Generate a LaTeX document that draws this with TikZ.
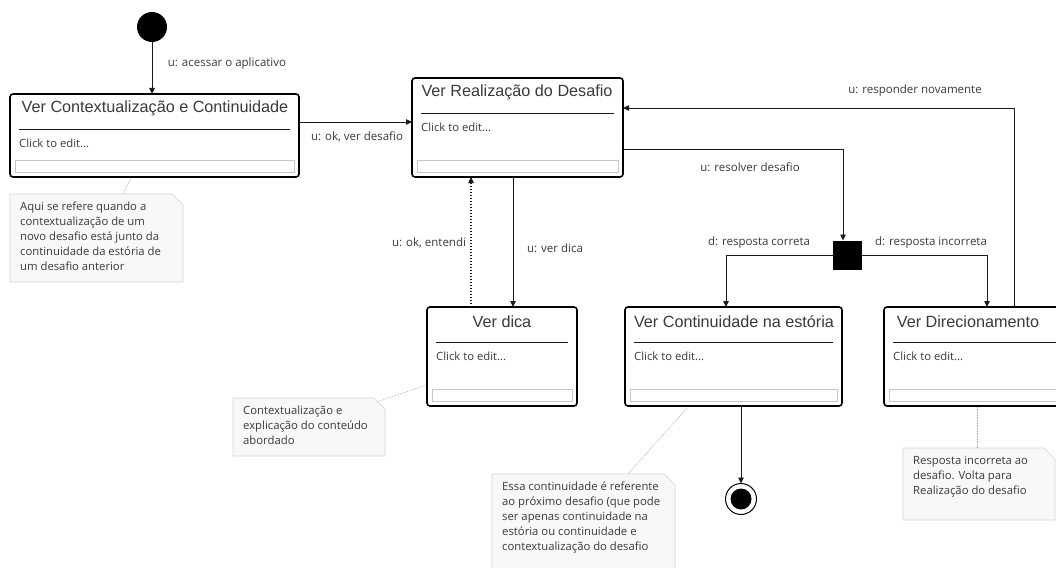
\documentclass[tikz,border=0pt]{standalone}
\usepackage{fontspec}
\setmainfont{Open Sans}
\newfontfamily\titlefont{Liberation Sans}
\usetikzlibrary{arrows.meta,calc}

\definecolor{linec}{HTML}{1A1A1A}
\definecolor{txtc}{HTML}{3A3A3A}
\definecolor{notefill}{HTML}{F8F8F8}
\definecolor{notedraw}{HTML}{D4D4D4}

\tikzset{
  st/.style={draw=black, line width=1.6pt, rounded corners=3pt, fill=white, inner sep=0pt, outer sep=0pt, anchor=north west},
  ttl/.style={font=\titlefont\fontsize{16.2}{19}\selectfont, text=txtc, inner sep=0pt},
  cte/.style={font=\fontsize{11.3}{13}\selectfont, text=txtc, inner sep=0pt, anchor=west},
  lbl/.style={font=\fontsize{11.5}{13}\selectfont, text=txtc, inner sep=0pt},
  arr/.style={draw=linec, line width=0.8pt, -{Triangle[length=6pt,width=5.5pt]}},
  dotarr/.style={draw=linec, line width=1.4pt, dash pattern=on 1.4pt off 1.6pt, -{Triangle[length=6pt,width=5.5pt,line width=0.8pt]}},
  notebg/.style={fill=notefill, draw=notedraw, line width=0.6pt},
  notetxt/.style={font=\fontsize{11.3}{15}\selectfont, text=txtc, inner sep=0pt, align=left, anchor=north west},
  leader/.style={draw=black!35, line width=0.5pt, dash pattern=on 0.8pt off 0.8pt},
  initst/.style={circle, fill=black, minimum size=30pt, inner sep=0pt, outer sep=0pt},
  finst/.style={circle, draw=black, line width=1pt, fill=white, minimum size=31pt, inner sep=0pt, outer sep=0pt},
  decst/.style={rectangle, fill=black, minimum size=29pt, inner sep=0pt, outer sep=0pt},
}

% name, x1, y1, x2, y2, title, title center x
\newcommand\mystate[7]{%
  \node[st, minimum width={(#4-#2)*1pt}, minimum height={(#5-#3)*1pt}] (#1) at (#2,#3) {};
  \node[ttl] (#1-t) at (#7,{#3+14.5}) {#6};
  \draw[draw=linec, line width=0.8pt] ({#2+9},{#3+35}) -- ({#4-9},{#3+35});
  \node[cte] (#1-c) at ({#2+9},{#3+49}) {Click to edit...};
  \draw[draw=black!22, line width=0.8pt] ({#2+5},{#5-16.5}) rectangle ({#4-5},{#5-5});
}

% name, x1, y1, x2, y2, text
\newcommand\mynote[6]{%
  \filldraw[notebg] (#2,#3) -- ({#4-11},#3) -- (#4,{#3+11}) -- (#4,#5) -- (#2,#5) -- cycle;
  \node[notetxt] (#1) at ({#2+10},{#3+8}) {#6};
}

\begin{document}
\begin{tikzpicture}[x=1pt,y=-1pt]
\useasboundingbox (0,0) rectangle (1056,567);
\clip (0,0) rectangle (1056,567);

% states
\mystate{b1}{10}{94}{299}{177}{Ver Contextualização e Continuidade}{155}
\mystate{b2}{412}{78}{623}{177}{Ver Realização do Desafio}{517}
\mystate{dica}{427}{307}{577}{406}{Ver dica}{502}
\mystate{cont}{625}{307}{842}{406}{Ver Continuidade na estória}{734}
\mystate{dir}{884}{307}{1066}{406}{Ver Direcionamento}{968}

\node[initst] (init) at (152,27) {};
\node[finst] (fin) at (741,499) {};
\fill[black] (fin.center) circle (10.5pt);
\node[decst] (dec) at (847,255) {};

% helper coordinates
\coordinate (p1) at (0,122);
\coordinate (xa) at (513,0);
\coordinate (xb) at (471,0);
\coordinate (p3) at (0,149);
\coordinate (xc) at (843,0);
\coordinate (xd) at (726,0);
\coordinate (xe) at (987,0);
\coordinate (xf) at (1014,0);
\coordinate (p4) at (0,108);

% connectors
\draw[arr] (init) -- (init |- b1.north);
\draw[arr] (b1.east |- p1) -- (b2.west |- p1);
\draw[arr] (b2.south -| xa) -- (dica.north -| xa);
\draw[dotarr] (dica.north -| xb) -- (b2.south -| xb);
\draw[arr] (b2.east |- p3) -| (dec.north -| xc);
\draw[arr] (dec.west) -| (cont.north -| xd);
\draw[arr] (dec.east) -| (dir.north -| xe);
\draw[arr] (dir.north -| xf) |- (b2.east |- p4);
\draw[arr] (cont.south -| fin) -- (fin.north);

% labels
\node[lbl] (l1) at (227,64) {u: acessar o aplicativo};
\node[lbl] (l2) at (357,137) {u: ok, ver desafio};
\node[lbl] (l3) at (915,91) {u: responder novamente};
\node[lbl] (l4) at (750,167) {u: resolver desafio};
\node[lbl] (l5) at (759,243) {d: resposta correta};
\node[lbl] (l6) at (931,243) {d: resposta incorreta};
\node[lbl] (l7) at (555,248) {u: ver dica};
\node[lbl] (l8) at (429,243) {u: ok, entendi};

% notes
\mynote{n1}{10}{194}{183}{282}{Aqui se refere quando a\\contextualização de um\\novo desafio está junto da\\continuidade da estória de\\um desafio anterior}
\mynote{n2}{233}{398}{385}{456}{Contextualização e\\explicação do conteúdo\\abordado}
\mynote{n3}{492}{474}{675}{580}{Essa continuidade é referente\\ao próximo desafio (que pode\\ser apenas continuidade na\\estória ou continuidade e\\contextualização do desafio}
\mynote{n4}{903}{448}{1055}{520}{Resposta incorreta ao\\desafio. Volta para\\Realização do desafio}

% note leaders
\coordinate (n1a) at (123,194);
\coordinate (n1b) at (131,178);
\coordinate (n2a) at (377,402);
\coordinate (n2b) at (426,385);
\coordinate (n3a) at (628,474);
\coordinate (n3b) at (688,407);
\coordinate (n4a) at (977,448);
\coordinate (n4b) at (977,407);
\draw[leader] (n1a) -- (n1b);
\draw[leader] (n2a) -- (n2b);
\draw[leader] (n3a) -- (n3b);
\draw[leader] (n4a) -- (n4b);
\end{tikzpicture}
\end{document}
